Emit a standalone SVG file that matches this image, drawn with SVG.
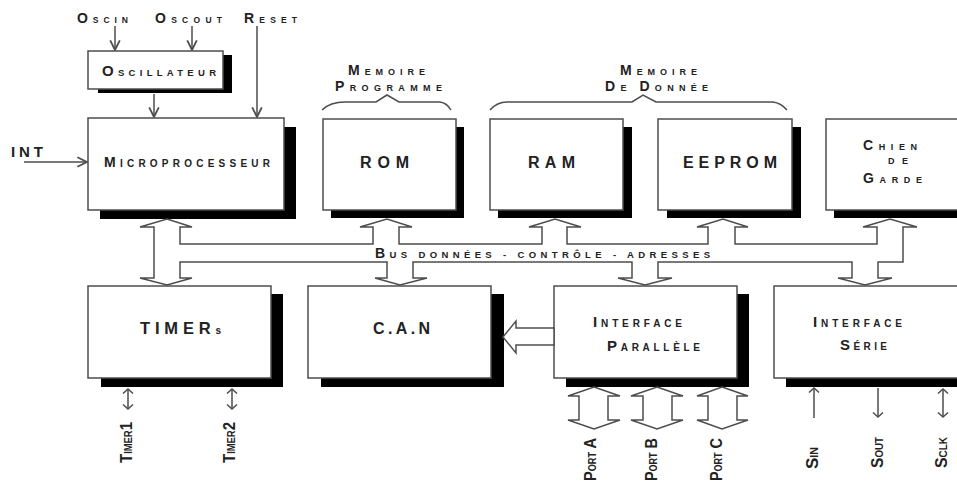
<svg xmlns="http://www.w3.org/2000/svg" width="957" height="482" viewBox="0 0 957 482">
<defs>
<style>
.box{fill:#fff;stroke:#4d4d4d;stroke-width:1.5}
.sh{fill:#000}
.t{font-family:"Liberation Sans",Arial,sans-serif;font-weight:bold;fill:#222}
.ln{stroke:#4d4d4d;stroke-width:1.5;fill:none}
.blk{fill:#fff;stroke:#4d4d4d;stroke-width:1.5;stroke-linejoin:miter}
</style>
<marker id="ah" markerUnits="userSpaceOnUse" markerWidth="12" markerHeight="12" viewBox="0 0 10 10" refX="9" refY="5" orient="auto-start-reverse">
<path d="M1,1 L9,5 L1,9" fill="none" stroke="#4d4d4d" stroke-width="1.5"/>
</marker>
<marker id="ah2" markerUnits="userSpaceOnUse" markerWidth="12" markerHeight="12" viewBox="0 0 12 12" refX="6" refY="6" orient="auto-start-reverse">
<path d="M1.5,1 L6,6 L1.5,11" fill="none" stroke="#4d4d4d" stroke-width="1.5"/>
</marker>
</defs>
<rect width="957" height="482" fill="#fff"/>

<g id="oscillateur">
<rect class="sh" x="98" y="55" width="134" height="38"/>
<rect class="box" x="88" y="51" width="135" height="38"/>
<text class="t" x="102" y="76" textLength="114" lengthAdjust="spacing"><tspan font-size="15">O</tspan><tspan font-size="9.5">SCILLATEUR</tspan></text>
</g>

<g id="microprocesseur">
<rect class="sh" x="100" y="127" width="196" height="92"/>
<rect class="box" x="88" y="118" width="196" height="92"/>
<text class="t" x="104" y="167" textLength="166" lengthAdjust="spacing"><tspan font-size="14">M</tspan><tspan font-size="10">ICROPROCESSEUR</tspan></text>
</g>

<g id="rom">
<rect class="sh" x="331" y="127" width="133" height="91"/>
<rect class="box" x="323" y="119" width="133" height="91"/>
<text class="t" x="360" y="168" font-size="16" textLength="49" lengthAdjust="spacing">ROM</text>
</g>

<g id="ram">
<rect class="sh" x="498" y="127" width="134" height="91"/>
<rect class="box" x="490" y="119" width="133" height="91"/>
<text class="t" x="528" y="168" font-size="16" textLength="47" lengthAdjust="spacing">RAM</text>
</g>

<g id="eeprom">
<rect class="sh" x="667" y="127" width="134" height="91"/>
<rect class="box" x="658" y="119" width="134" height="91"/>
<text class="t" x="683" y="168" font-size="16" textLength="94" lengthAdjust="spacing">EEPROM</text>
</g>

<g id="chien-de-garde">
<rect class="sh" x="834" y="127" width="130" height="91"/>
<rect class="box" x="826" y="119" width="140" height="91"/>
<text class="t" x="863" y="150" textLength="54" lengthAdjust="spacing"><tspan font-size="14">C</tspan><tspan font-size="9">HIEN</tspan></text>
<text class="t" x="888" y="164" font-size="9" textLength="20" lengthAdjust="spacing">DE</text>
<text class="t" x="863" y="183" textLength="59" lengthAdjust="spacing"><tspan font-size="14">G</tspan><tspan font-size="9">ARDE</tspan></text>
</g>

<g id="timers">
<rect class="sh" x="101" y="294" width="182" height="93"/>
<rect class="box" x="88" y="286" width="183" height="92"/>
<text class="t" x="140" y="334" textLength="81" lengthAdjust="spacing"><tspan font-size="16.5">TIMER</tspan><tspan font-size="10">s</tspan></text>
</g>

<g id="can">
<rect class="sh" x="321" y="294" width="183" height="93"/>
<rect class="box" x="308" y="286" width="183" height="92"/>
<text class="t" x="373" y="334" font-size="16" textLength="57" lengthAdjust="spacing">C.A.N</text>
</g>

<g id="interface-parallele">
<rect class="sh" x="566" y="294" width="183" height="93"/>
<rect class="box" x="554" y="286" width="183" height="92"/>
<text class="t" x="593" y="327" textLength="89" lengthAdjust="spacing"><tspan font-size="15">I</tspan><tspan font-size="10">NTERFACE</tspan></text>
<text class="t" x="607" y="351" textLength="93" lengthAdjust="spacing"><tspan font-size="15">P</tspan><tspan font-size="10">ARALLÈLE</tspan></text>
</g>

<g id="interface-serie">
<rect class="sh" x="786" y="294" width="180" height="93"/>
<rect class="box" x="774" y="286" width="190" height="92"/>
<text class="t" x="813" y="327" textLength="89" lengthAdjust="spacing"><tspan font-size="15">I</tspan><tspan font-size="10">NTERFACE</tspan></text>
<text class="t" x="840" y="350" textLength="47" lengthAdjust="spacing"><tspan font-size="15">S</tspan><tspan font-size="10">ÉRIE</tspan></text>
</g>

<g id="connectors">
<path class="blk" d="M167,219 L192,227 L180,227 L180,244 L373,244 L373,227 L360,227 L387,219 L412,227 L399,227 L399,244 L542,244 L542,227 L529,227 L555,219 L581,227 L567,227 L567,244 L708,244 L708,227 L697,227 L723,219 L748,227 L735,227 L735,244 L877,244 L877,227 L863,227 L890,219 L917,227 L903,227 L903,262 L878,262 L878,278 L892,278 L865,285 L838,278 L852,278 L852,262 L658,262 L658,278 L672,278 L645,285 L618,278 L632,278 L632,262 L413,262 L413,278 L427,278 L400,285 L375,278 L387,278 L387,262 L180,262 L180,278 L192,278 L167,285 L140,278 L154,278 L154,227 L140,227 Z"/>
<path class="blk" d="M503,337 L516,321 L516,328 L554,328 L554,345 L516,345 L516,353 Z"/>
<path class="blk" d="M594,387 L620,396 L608,396 L608,420 L620,420 L594,429 L568,420 L579,420 L579,396 L568,396 Z"/>
<path class="blk" d="M657,387 L683,396 L672,396 L672,420 L683,420 L657,429 L631,420 L643,420 L643,396 L631,396 Z"/>
<path class="blk" d="M722,387 L748,396 L737,396 L737,420 L748,420 L722,429 L697,420 L708,420 L708,396 L697,396 Z"/>
<path class="ln" d="M322,110 Q330,102 345,102 L376,102 L387,95 L399,102 L440,102 Q447,103 451,110"/>
<path class="ln" d="M490,110 Q497,102 507,102 L632,102 L643,95 L656,102 L773,102 Q781,103 787,110"/>
<line class="ln" x1="115" y1="26" x2="115" y2="50" marker-end="url(#ah)"/>
<line class="ln" x1="192" y1="26" x2="192" y2="50" marker-end="url(#ah)"/>
<line class="ln" x1="257" y1="26" x2="257" y2="117" marker-end="url(#ah)"/>
<line class="ln" x1="154" y1="94" x2="154" y2="117" marker-end="url(#ah)"/>
<line class="ln" x1="24" y1="162" x2="87" y2="162" marker-end="url(#ah)"/>
<line class="ln" x1="128" y1="389" x2="128" y2="409" marker-start="url(#ah2)" marker-end="url(#ah2)"/>
<line class="ln" x1="232" y1="389" x2="232" y2="409" marker-start="url(#ah2)" marker-end="url(#ah2)"/>
<line class="ln" x1="814" y1="418" x2="814" y2="388" marker-end="url(#ah2)"/>
<line class="ln" x1="878" y1="388" x2="878" y2="417" marker-end="url(#ah2)"/>
<line class="ln" x1="943" y1="389" x2="943" y2="417" marker-start="url(#ah2)" marker-end="url(#ah2)"/>
</g>

<g id="labels">
<text class="t" x="77" y="23" textLength="51" lengthAdjust="spacing"><tspan font-size="14">O</tspan><tspan font-size="8.5">SCIN</tspan></text>
<text class="t" x="155" y="23" textLength="67" lengthAdjust="spacing"><tspan font-size="14">O</tspan><tspan font-size="8.5">SCOUT</tspan></text>
<text class="t" x="244" y="23" textLength="53" lengthAdjust="spacing"><tspan font-size="14">R</tspan><tspan font-size="8.5">ESET</tspan></text>
<text class="t" x="11" y="157" font-size="15" textLength="32" lengthAdjust="spacing">INT</text>
<text class="t" x="348" y="75" textLength="77" lengthAdjust="spacing"><tspan font-size="14">M</tspan><tspan font-size="9">EMOIRE</tspan></text>
<text class="t" x="335" y="91" textLength="107" lengthAdjust="spacing"><tspan font-size="14">P</tspan><tspan font-size="9">ROGRAMME</tspan></text>
<text class="t" x="620" y="75" textLength="77" lengthAdjust="spacing"><tspan font-size="14">M</tspan><tspan font-size="9">EMOIRE</tspan></text>
<text class="t" x="605" y="91" textLength="103" lengthAdjust="spacing"><tspan font-size="14">D</tspan><tspan font-size="9">E </tspan><tspan font-size="14">D</tspan><tspan font-size="9">ONNÉE</tspan></text>
<text class="t" x="375" y="258" textLength="335" lengthAdjust="spacing"><tspan font-size="14">B</tspan><tspan font-size="9.5">US DONNÉES - CONTRÔLE - ADRESSES</tspan></text>
<text class="t" transform="translate(132,463) rotate(-90)" textLength="41" lengthAdjust="spacingAndGlyphs"><tspan font-size="16">T</tspan><tspan font-size="10">IMER</tspan><tspan font-size="16">1</tspan></text>
<text class="t" transform="translate(235,463) rotate(-90)" textLength="41" lengthAdjust="spacingAndGlyphs"><tspan font-size="16">T</tspan><tspan font-size="10">IMER</tspan><tspan font-size="16">2</tspan></text>
<text class="t" transform="translate(596,481) rotate(-90)" textLength="43" lengthAdjust="spacingAndGlyphs"><tspan font-size="16">P</tspan><tspan font-size="10">ORT</tspan><tspan font-size="16"> A</tspan></text>
<text class="t" transform="translate(657,481) rotate(-90)" textLength="43" lengthAdjust="spacingAndGlyphs"><tspan font-size="16">P</tspan><tspan font-size="10">ORT</tspan><tspan font-size="16"> B</tspan></text>
<text class="t" transform="translate(722,481) rotate(-90)" textLength="43" lengthAdjust="spacingAndGlyphs"><tspan font-size="16">P</tspan><tspan font-size="10">ORT</tspan><tspan font-size="16"> C</tspan></text>
<text class="t" transform="translate(818,469) rotate(-90)" textLength="22" lengthAdjust="spacingAndGlyphs"><tspan font-size="16">S</tspan><tspan font-size="10">IN</tspan></text>
<text class="t" transform="translate(883,468) rotate(-90)" textLength="31" lengthAdjust="spacingAndGlyphs"><tspan font-size="16">S</tspan><tspan font-size="10">OUT</tspan></text>
<text class="t" transform="translate(947,468) rotate(-90)" textLength="31" lengthAdjust="spacingAndGlyphs"><tspan font-size="16">S</tspan><tspan font-size="10">CLK</tspan></text>
</g>
</svg>
